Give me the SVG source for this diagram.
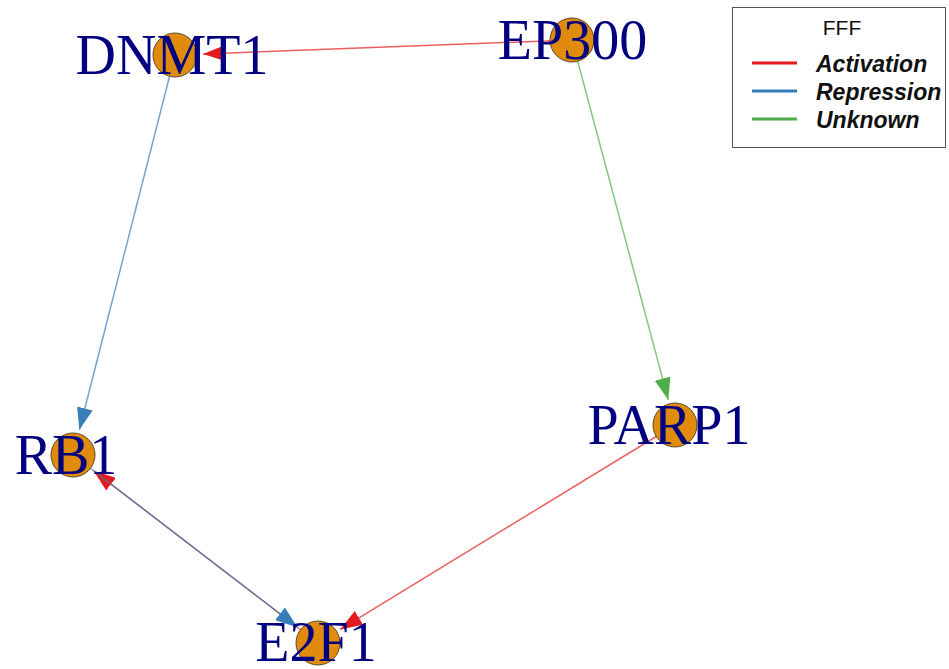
<svg xmlns="http://www.w3.org/2000/svg" width="949" height="669" viewBox="0 0 949 669">
<defs>
<style>
.edge{fill:none;stroke-width:1.5;stroke-opacity:0.7}
.act{stroke:#E41A1C}
.rep{stroke:#377EB8}
.unk{stroke:#4DAF4A}
.node circle{fill:#E08B0C;stroke:#5a4a2a;stroke-width:1}
.node text{font-family:"Liberation Serif","Times New Roman",serif;font-size:56px;fill:#000080;text-anchor:middle}
.leg{font-family:"Liberation Sans",Arial,sans-serif;font-size:23px;font-weight:bold;font-style:italic;fill:#111}
</style>
<marker id="mA" markerUnits="userSpaceOnUse" markerWidth="22" markerHeight="16" refX="22" refY="8" orient="auto"><path d="M0,0 L22,8 L0,16 z" fill="#E41A1C"/></marker>
<marker id="mR" markerUnits="userSpaceOnUse" markerWidth="22" markerHeight="16" refX="22" refY="8" orient="auto"><path d="M0,0 L22,8 L0,16 z" fill="#377EB8"/></marker>
<marker id="mU" markerUnits="userSpaceOnUse" markerWidth="22" markerHeight="16" refX="22" refY="8" orient="auto"><path d="M0,0 L22,8 L0,16 z" fill="#4DAF4A"/></marker>
</defs>
<rect width="949" height="669" fill="#fff"/>
<g id="edges">
<line class="edge act" x1="572" y1="40" x2="203" y2="54" marker-end="url(#mA)"/>
<line class="edge rep" x1="175" y1="55" x2="79.4" y2="429.8" marker-end="url(#mR)"/>
<line class="edge unk" x1="572" y1="40" x2="668.3" y2="399.9" marker-end="url(#mU)"/>
<line class="edge act" x1="675" y1="425" x2="340.2" y2="629.4" marker-end="url(#mA)"/>
<line class="edge act" x1="318" y1="643" x2="93.6" y2="470.8" marker-end="url(#mA)"/>
<line class="edge rep" x1="73" y1="455" x2="297.4" y2="627.2" marker-end="url(#mR)"/>
</g>
<g id="DNMT1" class="node"><circle cx="175" cy="55" r="22"/><text x="172" y="74">DNMT1</text></g>
<g id="EP300" class="node"><circle cx="572" cy="40" r="22"/><text x="572.5" y="59">EP300</text></g>
<g id="RB1" class="node"><circle cx="73" cy="455" r="22"/><text x="66" y="474">RB1</text></g>
<g id="PARP1" class="node"><circle cx="675" cy="425" r="22"/><text x="669" y="444">PARP1</text></g>
<g id="E2F1" class="node"><circle cx="318" cy="643" r="22"/><text x="316" y="661">E2F1</text></g>
<g id="legend">
<rect x="732.5" y="7.5" width="213" height="140" fill="#fff" stroke="#555" stroke-width="1"/>
<text x="842" y="35" font-family="Liberation Sans,Arial,sans-serif" font-size="21" fill="#111" text-anchor="middle">FFF</text>
<line x1="752" y1="63" x2="797" y2="63" stroke="#E41A1C" stroke-width="3"/>
<line x1="752" y1="91" x2="797" y2="91" stroke="#377EB8" stroke-width="3"/>
<line x1="752" y1="119" x2="797" y2="119" stroke="#4DAF4A" stroke-width="3"/>
<text class="leg" x="816" y="72">Activation</text>
<text class="leg" x="816" y="100">Repression</text>
<text class="leg" x="816" y="128">Unknown</text>
</g>
</svg>
